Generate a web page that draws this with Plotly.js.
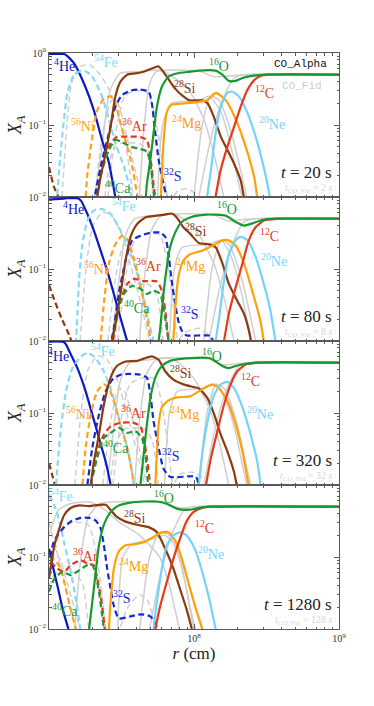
<!DOCTYPE html>
<html>
<head>
<meta charset="utf-8">
<script src="https://cdn.plot.ly/plotly-3.0.1.min.js"></script>
<style>
  html, body { margin: 0; padding: 0; background: #fff; }
  #chart { width: 374px; height: 706px; }
</style>
</head>
<body>
<div id="chart"></div>
<script>
// =============================================================================
//  Mass fractions X_A vs radius, CO_Alpha (colour) vs CO_Fid (grey), 4 epochs.
//  Curves are [r (1e7 cm), X_A] pairs.
// =============================================================================
const R_UNIT = 1e7;
const TIMES = ['20', '80', '320', '1280'];
const TIMES_FID = ['2', '8', '32', '128'];
const X_TICKS = [1e8, 1e9];
const X_TICKTEXT = ['10<sup>8</sup>', '10<sup>9</sup>'];

// ---- t = 20 s ---------------------------------------------------------------
const He_20 = [[1.0,0.97],[1.25,0.97],[1.30,0.95],[1.49,0.72],[1.74,0.38],[2.04,0.16],[2.32,0.062],[2.59,0.03],[2.87,0.01],[3.0,0.007]];
const Fe_20 = [[1.13,0.008],[1.145,0.012],[1.18,0.027],[1.24,0.077],[1.34,0.28],[1.49,0.5],[1.70,0.57],[1.94,0.5],[2.27,0.28],[2.59,0.12],[2.87,0.056],[3.28,0.027],[3.65,0.012],[3.78,0.008]];
const Ni_20 = [[1.79,0.01],[1.84,0.021],[1.99,0.069],[2.15,0.16],[2.39,0.23],[2.66,0.25],[2.87,0.2],[3.11,0.107],[3.46,0.05],[3.74,0.027],[4.05,0.011],[4.15,0.008]];
const Si_20 = [[2.15,0.01],[2.27,0.019],[2.46,0.041],[2.66,0.095],[2.87,0.25],[3.11,0.4],[3.46,0.5],[3.94,0.52],[4.50,0.55],[5.12,0.61],[5.70,0.65],[6.49,0.47],[7.41,0.32],[8.44,0.25],[9.27,0.22],[11.4,0.22],[12.4,0.2],[13.7,0.13],[15.3,0.069],[17.0,0.045],[18.9,0.029],[21.0,0.017],[22.1,0.01],[22.9,0.008]];
const S_20 = [[2.04,0.008],[2.10,0.012],[2.33,0.033],[2.59,0.077],[2.87,0.18],[3.19,0.26],[3.65,0.3],[4.27,0.31],[4.87,0.29],[5.12,0.2],[5.41,0.077],[5.70,0.033],[6.16,0.015],[6.49,0.01],[6.67,0.008]];
const Ar_20 = [[2.11,0.008],[2.21,0.015],[2.39,0.033],[2.66,0.056],[2.94,0.068],[3.46,0.069],[4.27,0.068],[4.73,0.062],[5.00,0.036],[5.26,0.015],[5.41,0.01],[5.52,0.008]];
const Ca_20 = [[2.07,0.008],[2.15,0.012],[2.33,0.024],[2.59,0.045],[2.87,0.062],[3.19,0.058],[3.65,0.05],[4.15,0.047],[4.73,0.043],[5.00,0.029],[5.26,0.012],[5.35,0.008]];
const O_20 = [[4.62,0.008],[4.73,0.015],[5.00,0.033],[5.26,0.077],[5.55,0.18],[6.00,0.34],[6.67,0.47],[7.60,0.52],[9.39,0.55],[10.8,0.57],[14.1,0.57],[15.7,0.5],[17.4,0.41],[19.4,0.41],[21.6,0.45],[25.2,0.48],[31.0,0.5],[100,0.5]];
const Mg_20 = [[5.88,0.008],[6.05,0.03],[6.24,0.08],[6.49,0.15],[6.97,0.19],[8.57,0.2],[10.8,0.21],[12.3,0.22],[13.4,0.26],[14.2,0.28],[16.6,0.22],[19.4,0.12],[22.7,0.05],[26.0,0.019],[27.3,0.01],[28.0,0.008]];
const Ne_20 = [[12.1,0.008],[13.1,0.024],[14.1,0.077],[15.3,0.18],[17.0,0.28],[18.4,0.29],[20.4,0.25],[23.4,0.146],[26.6,0.069],[29.4,0.033],[32.8,0.012],[33.8,0.008]];
const C_20 = [[13.8,0.008],[15.3,0.024],[17.0,0.05],[18.9,0.095],[21.0,0.18],[23.4,0.31],[26.0,0.42],[28.8,0.48],[32.8,0.5],[100,0.5]];
const Cr_20 = [[1.0,0.026],[1.08,0.014],[1.16,0.01],[1.2,0.007]];

const gFe_20 = [[1.23,0.01],[1.33,0.1],[1.44,0.4],[1.64,0.65],[1.92,0.68],[2.25,0.5],[2.66,0.28],[3.28,0.069],[3.72,0.015],[3.84,0.008]];
const gNi_20 = [[2.07,0.01],[2.35,0.08],[2.71,0.22],[2.98,0.2],[3.38,0.08],[3.90,0.025],[4.36,0.01],[4.5,0.008]];
const gS_20 = [[2.55,0.01],[2.89,0.08],[3.33,0.25],[3.90,0.3],[4.79,0.28],[5.43,0.12],[6.07,0.03],[6.56,0.01],[6.7,0.008]];
const gBump_20 = [[6.77,0.008],[7.68,0.012],[8.99,0.013],[10.3,0.011],[11.2,0.008]];
const gAr_20 = [[2.43,0.01],[2.71,0.04],[3.08,0.055],[4.22,0.055],[4.79,0.04],[5.18,0.012],[5.3,0.008]];
const gSi_20 = [[2.07,0.01],[2.32,0.05],[2.63,0.3],[3.08,0.52],[4.22,0.55],[5.79,0.58],[7.33,0.45],[9.27,0.3],[11.7,0.12],[13.7,0.04],[16.1,0.01],[16.8,0.008]];
const gO_20 = [[4.2,0.01],[4.5,0.08],[4.9,0.35],[5.5,0.55],[10.8,0.56],[13.7,0.47],[17.4,0.48],[23.9,0.5],[100,0.5]];
const gMg_20 = [[5.61,0.01],[6.07,0.1],[6.99,0.2],[10.8,0.22],[12.7,0.25],[15.4,0.15],[18.0,0.05],[20.4,0.015],[21.4,0.01],[22,0.008]];
const gNe_20 = [[10.0,0.01],[11.4,0.1],[13.1,0.25],[14.9,0.22],[18.0,0.08],[22.1,0.015],[23.1,0.01],[24,0.008]];
const gC_20 = [[10.8,0.01],[12.7,0.05],[15.4,0.2],[18.9,0.45],[22.1,0.5],[100,0.5]];

// ---- t = 80 s ---------------------------------------------------------------
const He_80 = [[1.0,0.92],[1.3,0.96],[1.57,0.96],[1.66,0.89],[1.84,0.58],[2.04,0.34],[2.27,0.18],[2.52,0.095],[2.80,0.045],[3.11,0.021],[3.46,0.01],[3.61,0.008]];
const Fe_80 = [[1.53,0.009],[1.57,0.024],[1.61,0.069],[1.70,0.22],[1.84,0.47],[2.04,0.65],[2.33,0.68],[2.66,0.58],[3.03,0.38],[3.46,0.22],[3.94,0.106],[4.50,0.04],[5.00,0.015],[5.26,0.01],[5.4,0.008]];
const Ni_80 = [[2.27,0.01],[2.39,0.033],[2.59,0.12],[2.87,0.22],[3.19,0.29],[3.46,0.26],[3.74,0.17],[4.15,0.077],[4.50,0.036],[4.87,0.015],[5.02,0.01],[5.1,0.008]];
const Si_80 = [[2.73,0.01],[2.87,0.017],[3.11,0.045],[3.37,0.13],[3.65,0.28],[4.05,0.42],[4.62,0.52],[5.55,0.55],[6.33,0.57],[7.01,0.59],[7.60,0.52],[8.44,0.38],[9.39,0.31],[10.8,0.23],[12.7,0.22],[14.1,0.2],[15.7,0.12],[17.4,0.062],[19.9,0.036],[22.1,0.024],[23.9,0.014],[24.7,0.01],[25.2,0.008]];
const S_80 = [[2.63,0.008],[2.80,0.015],[3.03,0.045],[3.37,0.13],[3.74,0.25],[4.27,0.29],[5.00,0.32],[5.85,0.32],[6.33,0.28],[6.67,0.16],[7.01,0.069],[7.41,0.033],[7.80,0.019],[8.23,0.014],[8.82,0.012],[13.0,0.0118],[13.5,0.01],[14.1,0.008]];
const Ar_80 = [[2.76,0.01],[2.87,0.017],[3.11,0.036],[3.46,0.062],[3.84,0.073],[4.50,0.068],[5.55,0.067],[6.00,0.05],[6.33,0.027],[6.67,0.01],[6.8,0.008]];
const Ca_80 = [[2.73,0.01],[2.94,0.024],[3.28,0.045],[3.74,0.058],[4.27,0.053],[4.73,0.045],[5.26,0.05],[5.85,0.045],[6.16,0.029],[6.49,0.015],[6.67,0.01],[6.75,0.008]];
const O_80 = [[5.70,0.01],[5.85,0.015],[6.16,0.045],[6.49,0.106],[6.84,0.2],[7.41,0.32],[8.23,0.45],[9.39,0.52],[12.1,0.57],[16.6,0.55],[19.4,0.45],[22.1,0.4],[25.2,0.43],[29.5,0.48],[36.4,0.5],[100,0.5]];
const Mg_80 = [[7.21,0.01],[7.41,0.027],[7.80,0.077],[8.44,0.13],[9.39,0.16],[11.4,0.18],[13.4,0.21],[15.7,0.25],[17.4,0.25],[19.4,0.21],[22.1,0.12],[25.2,0.05],[28.7,0.019],[30.3,0.01],[31,0.008]];
const Ne_80 = [[14.1,0.01],[14.9,0.021],[16.1,0.069],[17.4,0.16],[19.4,0.25],[21.0,0.28],[23.4,0.25],[26.6,0.146],[30.3,0.062],[33.6,0.027],[36.4,0.01],[37,0.008]];
const C_80 = [[16.1,0.01],[17.4,0.024],[19.4,0.056],[21.6,0.12],[23.9,0.25],[26.6,0.38],[30.3,0.47],[34.4,0.49],[41.4,0.5],[100,0.5]];
const Cr_80 = [[1.0,0.06],[1.10,0.035],[1.23,0.02],[1.38,0.012],[1.49,0.008]];

const gFe_80 = [[1.64,0.01],[1.80,0.1],[2.01,0.4],[2.35,0.62],[2.71,0.55],[3.18,0.3],[3.72,0.1],[4.36,0.03],[4.94,0.01],[5.1,0.008]];
const gNi_80 = [[2.55,0.01],[2.89,0.08],[3.28,0.22],[3.61,0.2],[4.09,0.08],[4.64,0.025],[5.10,0.01],[5.2,0.008]];
const gS_80 = [[2.98,0.01],[3.38,0.08],[3.90,0.25],[4.57,0.3],[5.79,0.3],[6.56,0.12],[7.21,0.03],[7.68,0.01],[7.8,0.008]];
const gBump_80 = [[7.44,0.008],[8.57,0.013],[10.8,0.015],[12.7,0.012],[13.7,0.008]];
const gAr_80 = [[2.84,0.01],[3.18,0.04],[3.61,0.06],[4.94,0.06],[5.61,0.04],[6.07,0.012],[6.2,0.008]];
const gSi_80 = [[2.71,0.01],[2.98,0.05],[3.38,0.3],[3.90,0.5],[5.35,0.55],[7.33,0.58],[8.99,0.45],[10.8,0.3],[13.7,0.12],[16.1,0.04],[18.9,0.01],[19.5,0.008]];
const gO_80 = [[4.22,0.01],[4.57,0.08],[5.10,0.35],[5.97,0.55],[13.7,0.56],[16.9,0.47],[20.4,0.48],[25.9,0.5],[100,0.5]];
const gMg_80 = [[6.77,0.01],[7.33,0.1],[8.31,0.2],[12.7,0.22],[15.4,0.25],[18.0,0.15],[21.1,0.05],[23.9,0.015],[25.1,0.01],[25.8,0.008]];
const gNe_80 = [[11.7,0.01],[13.3,0.1],[15.4,0.25],[17.4,0.22],[21.1,0.08],[25.5,0.015],[26.7,0.01],[27.3,0.008]];
const gC_80 = [[12.7,0.01],[14.9,0.05],[18.0,0.2],[22.1,0.45],[25.9,0.5],[100,0.5]];

// ---- t = 320 s --------------------------------------------------------------
const He_320 = [[1.0,0.98],[1.26,0.97],[1.31,0.9],[1.38,0.72],[1.57,0.42],[1.79,0.2],[1.99,0.095],[2.21,0.045],[2.46,0.021],[2.66,0.01],[2.71,0.008]];
const Fe_320 = [[1.12,0.01],[1.145,0.019],[1.21,0.062],[1.31,0.2],[1.45,0.42],[1.66,0.61],[1.84,0.68],[2.04,0.61],[2.33,0.42],[2.66,0.22],[3.03,0.085],[3.46,0.033],[3.74,0.015],[3.84,0.01],[3.9,0.008]];
const Ni_320 = [[1.70,0.01],[1.79,0.033],[1.94,0.095],[2.15,0.2],[2.39,0.25],[2.59,0.22],[2.80,0.146],[3.11,0.069],[3.46,0.033],[3.74,0.015],[3.84,0.01],[3.9,0.008]];
const Si_320 = [[1.94,0.01],[2.04,0.021],[2.21,0.05],[2.39,0.13],[2.66,0.31],[2.94,0.45],[3.37,0.52],[4.05,0.53],[4.50,0.57],[5.12,0.61],[5.70,0.55],[6.33,0.38],[7.21,0.29],[8.44,0.25],[9.9,0.23],[10.8,0.22],[12.4,0.16],[13.8,0.095],[15.3,0.05],[17.0,0.029],[18.9,0.015],[19.7,0.01],[20.2,0.008]];
const S_320 = [[1.84,0.01],[1.99,0.033],[2.21,0.095],[2.46,0.2],[2.73,0.29],[3.11,0.34],[3.65,0.35],[4.27,0.34],[4.73,0.31],[5.00,0.18],[5.26,0.077],[5.70,0.033],[6.16,0.017],[6.84,0.013],[10.3,0.013],[10.8,0.01],[11.2,0.008]];
const Ar_320 = [[1.94,0.01],[2.15,0.029],[2.39,0.05],[2.66,0.065],[3.11,0.073],[3.84,0.073],[4.27,0.065],[4.50,0.045],[4.73,0.024],[5.00,0.01],[5.1,0.008]];
const Ca_320 = [[1.94,0.01],[2.15,0.024],[2.39,0.045],[2.66,0.053],[3.03,0.062],[3.46,0.053],[3.94,0.056],[4.37,0.045],[4.62,0.027],[4.83,0.01],[4.9,0.008]];
const O_320 = [[4.27,0.01],[4.50,0.027],[4.73,0.069],[5.00,0.16],[5.41,0.31],[6.00,0.45],[6.84,0.53],[8.44,0.57],[12.7,0.58],[14.1,0.52],[15.7,0.45],[17.4,0.42],[19.4,0.45],[22.7,0.48],[28.0,0.5],[100,0.5]];
const Mg_320 = [[5.41,0.01],[5.55,0.027],[5.70,0.069],[6.00,0.12],[6.67,0.15],[7.60,0.165],[9.39,0.17],[10.8,0.2],[12.1,0.23],[13.4,0.25],[14.9,0.22],[17.0,0.146],[19.4,0.069],[21.6,0.029],[23.4,0.012],[23.8,0.01],[24.2,0.008]];
const Ne_320 = [[10.8,0.01],[11.4,0.027],[12.4,0.077],[13.8,0.18],[15.3,0.25],[17.0,0.27],[18.9,0.22],[21.6,0.12],[24.6,0.05],[27.3,0.021],[28.8,0.01],[29.3,0.008]];
const C_320 = [[12.1,0.01],[13.1,0.024],[14.5,0.056],[16.1,0.13],[17.9,0.25],[19.9,0.38],[22.7,0.47],[26.6,0.5],[100,0.5]];
const Cr_320 = [[1.0,0.02],[1.05,0.014],[1.10,0.01],[1.13,0.008]];

const gFe_320 = [[1.51,0.01],[1.66,0.1],[1.86,0.4],[2.17,0.62],[2.51,0.55],[2.93,0.3],[3.44,0.1],[4.03,0.03],[4.57,0.01],[4.7,0.008]];
const gNi_320 = [[2.35,0.01],[2.67,0.08],[3.03,0.22],[3.33,0.2],[3.78,0.08],[4.29,0.025],[4.72,0.01],[4.8,0.008]];
const gS_320 = [[2.76,0.01],[3.13,0.08],[3.61,0.25],[4.22,0.3],[5.35,0.3],[6.07,0.12],[6.67,0.03],[7.10,0.01],[7.2,0.008]];
const gBump_320 = [[6.99,0.008],[7.93,0.014],[10.0,0.015],[11.7,0.012],[12.7,0.008]];
const gAr_320 = [[2.63,0.01],[2.93,0.04],[3.33,0.06],[4.57,0.06],[5.18,0.04],[5.61,0.012],[5.7,0.008]];
const gSi_320 = [[2.51,0.01],[2.76,0.05],[3.13,0.3],[3.61,0.5],[4.94,0.55],[6.77,0.58],[8.31,0.45],[10.0,0.3],[12.7,0.12],[14.9,0.04],[17.4,0.01],[18,0.008]];
const gO_320 = [[3.90,0.01],[4.22,0.08],[4.72,0.35],[5.52,0.55],[12.7,0.56],[15.6,0.47],[18.9,0.48],[23.9,0.5],[100,0.5]];
const gMg_320 = [[6.26,0.01],[6.77,0.1],[7.68,0.2],[11.7,0.22],[14.2,0.25],[16.6,0.15],[19.5,0.05],[22.1,0.015],[23.1,0.01],[23.7,0.008]];
const gNe_320 = [[10.8,0.01],[12.3,0.1],[14.2,0.25],[16.1,0.22],[19.5,0.08],[23.5,0.015],[24.7,0.01],[25.2,0.008]];
const gC_320 = [[11.7,0.01],[13.7,0.05],[16.6,0.2],[20.4,0.45],[23.9,0.5],[100,0.5]];

// ---- t = 1280 s -------------------------------------------------------------
const He_1280 = [[1.0,0.13],[1.07,0.07],[1.16,0.035],[1.25,0.018],[1.36,0.01],[1.39,0.008]];
const Fe_1280 = [[1.0,0.72],[1.09,0.52],[1.18,0.31],[1.27,0.16],[1.38,0.077],[1.49,0.036],[1.57,0.019],[1.64,0.01],[1.67,0.008]];
const Ni_1280 = [[1.0,0.1],[1.10,0.09],[1.20,0.07],[1.29,0.04],[1.40,0.02],[1.53,0.01],[1.57,0.008]];
const Si_1280 = [[1.0,0.05],[1.04,0.085],[1.09,0.146],[1.18,0.25],[1.27,0.38],[1.41,0.48],[1.61,0.52],[1.89,0.51],[2.21,0.53],[2.46,0.53],[2.66,0.45],[2.94,0.36],[3.37,0.31],[4.05,0.28],[4.87,0.26],[5.55,0.22],[6.33,0.13],[7.21,0.069],[8.01,0.036],[8.87,0.019],[9.66,0.01],[9.9,0.008]];
const S_1280 = [[1.02,0.1],[1.075,0.16],[1.145,0.2],[1.27,0.26],[1.41,0.31],[1.66,0.35],[1.89,0.35],[2.10,0.32],[2.27,0.25],[2.39,0.146],[2.52,0.069],[2.66,0.036],[2.80,0.021],[3.03,0.014],[3.65,0.015],[4.27,0.016],[5.00,0.015],[5.41,0.012],[5.55,0.01],[5.70,0.008]];
const Ar_1280 = [[1.03,0.085],[1.145,0.069],[1.27,0.062],[1.41,0.077],[1.66,0.09],[1.84,0.081],[2.04,0.077],[2.15,0.05],[2.27,0.029],[2.37,0.015],[2.42,0.01],[2.45,0.008]];
const Ca_1280 = [[1.0,0.033],[1.09,0.05],[1.24,0.062],[1.41,0.056],[1.61,0.065],[1.84,0.077],[1.99,0.077],[2.10,0.056],[2.21,0.033],[2.33,0.015],[2.39,0.01],[2.42,0.008]];
const O_1280 = [[1.89,0.01],[1.99,0.024],[2.10,0.062],[2.21,0.146],[2.39,0.28],[2.66,0.42],[3.03,0.52],[3.65,0.57],[4.50,0.59],[5.55,0.59],[6.49,0.55],[7.60,0.47],[8.87,0.45],[9.9,0.46],[10.8,0.48],[12.7,0.5],[100,0.5]];
const Mg_1280 = [[2.59,0.01],[2.66,0.024],[2.80,0.069],[3.03,0.12],[3.37,0.146],[3.84,0.15],[4.50,0.16],[5.26,0.19],[6.00,0.22],[6.67,0.22],[7.41,0.17],[8.23,0.095],[9.27,0.04],[10.3,0.019],[11.4,0.01],[11.7,0.008]];
const Ne_1280 = [[5.26,0.01],[5.55,0.024],[6.00,0.069],[6.49,0.146],[7.21,0.2],[8.01,0.22],[8.87,0.2],[9.27,0.18],[10.3,0.12],[11.4,0.062],[12.7,0.027],[14.1,0.01],[14.5,0.008]];
const C_1280 = [[5.41,0.01],[5.85,0.021],[6.49,0.045],[7.21,0.095],[8.01,0.18],[8.87,0.31],[9.9,0.42],[11.4,0.48],[13.4,0.5],[100,0.5]];

const gFe_1280 = [[1.0,0.3],[1.10,0.15],[1.23,0.06],[1.40,0.02],[1.54,0.01],[1.6,0.008]];
const gNi_1280 = [[1.0,0.08],[1.16,0.1],[1.31,0.05],[1.49,0.02],[1.64,0.01],[1.7,0.008]];
const gS_1280 = [[1.0,0.05],[1.20,0.22],[1.44,0.3],[1.86,0.28],[2.11,0.12],[2.32,0.03],[2.47,0.01],[2.55,0.008]];
const gBump_1280 = [[2.98,0.008],[3.49,0.02],[4.22,0.03],[4.79,0.025],[5.35,0.012],[5.61,0.008]];
const gAr_1280 = [[1.0,0.04],[1.12,0.06],[1.51,0.06],[1.72,0.04],[1.86,0.012],[1.92,0.008]];
const gSi_1280 = [[1.0,0.2],[1.16,0.45],[1.40,0.55],[1.92,0.58],[2.43,0.45],[3.08,0.3],[4.22,0.2],[5.79,0.1],[6.77,0.04],[7.93,0.01],[8.2,0.008]];
const gO_1280 = [[1.51,0.01],[1.64,0.08],[1.86,0.35],[2.25,0.55],[5.79,0.57],[7.33,0.5],[8.57,0.48],[10.8,0.5],[100,0.5]];
const gMg_1280 = [[2.98,0.01],[3.23,0.1],[3.72,0.15],[5.35,0.18],[6.26,0.2],[7.33,0.15],[8.57,0.05],[9.72,0.015],[10.2,0.01],[10.5,0.008]];
const gNe_1280 = [[4.22,0.01],[4.94,0.1],[5.79,0.22],[6.77,0.2],[8.18,0.08],[9.57,0.015],[10.0,0.01],[10.3,0.008]];
const gC_1280 = [[4.94,0.01],[5.79,0.05],[6.99,0.2],[8.57,0.45],[10.0,0.5],[100,0.5]];

// species styles (colour, dashed?)
const SP = {
  Cr: { c: '#8c3a0e', dash: true },
  He: { c: '#0c18c4', dash: false },
  Fe: { c: '#84d9fb', dash: true },
  Ni: { c: '#ffa11a', dash: true },
  Ar: { c: '#e8371d', dash: true },
  Ca: { c: '#1c9a39', dash: true },
  S:  { c: '#1428d4', dash: true },
  Si: { c: '#8c3a0e', dash: false },
  Mg: { c: '#ffa00a', dash: false },
  Ne: { c: '#72d4fa', dash: false },
  C:  { c: '#e63b1b', dash: false },
  O:  { c: '#17992f', dash: false },
};
const GREY_DASHED = { Fe: true, Ni: true, S: true, Bump: true, Ar: true };

const PANELS = [
  { col: { Cr: Cr_20, He: He_20, Fe: Fe_20, Ni: Ni_20, Ar: Ar_20, Ca: Ca_20, S: S_20, Si: Si_20, Mg: Mg_20, Ne: Ne_20, C: C_20, O: O_20 },
    grey: { Fe: gFe_20, Ni: gNi_20, S: gS_20, Bump: gBump_20, Ar: gAr_20, Si: gSi_20, O: gO_20, Mg: gMg_20, Ne: gNe_20, C: gC_20 } },
  { col: { Cr: Cr_80, He: He_80, Fe: Fe_80, Ni: Ni_80, Ar: Ar_80, Ca: Ca_80, S: S_80, Si: Si_80, Mg: Mg_80, Ne: Ne_80, C: C_80, O: O_80 },
    grey: { Fe: gFe_80, Ni: gNi_80, S: gS_80, Bump: gBump_80, Ar: gAr_80, Si: gSi_80, O: gO_80, Mg: gMg_80, Ne: gNe_80, C: gC_80 } },
  { col: { Cr: Cr_320, He: He_320, Fe: Fe_320, Ni: Ni_320, Ar: Ar_320, Ca: Ca_320, S: S_320, Si: Si_320, Mg: Mg_320, Ne: Ne_320, C: C_320, O: O_320 },
    grey: { Fe: gFe_320, Ni: gNi_320, S: gS_320, Bump: gBump_320, Ar: gAr_320, Si: gSi_320, O: gO_320, Mg: gMg_320, Ne: gNe_320, C: gC_320 } },
  { col: { He: He_1280, Fe: Fe_1280, Ni: Ni_1280, Ar: Ar_1280, Ca: Ca_1280, S: S_1280, Si: Si_1280, Mg: Mg_1280, Ne: Ne_1280, C: C_1280, O: O_1280 },
    grey: { Fe: gFe_1280, Ni: gNi_1280, S: gS_1280, Bump: gBump_1280, Ar: gAr_1280, Si: gSi_1280, O: gO_1280, Mg: gMg_1280, Ne: gNe_1280, C: gC_1280 } },
];

// species labels: [species, text, page px x, page px y]
const LABELS = [
  [['He','<sup>4</sup>He',64,65],['Fe','<sup>54</sup>Fe',106,61],['O','<sup>16</sup>O',219,65],['Si','<sup>28</sup>Si',185,87],
   ['C','<sup>12</sup>C',264,92],['Ni','<sup>56</sup>Ni',83,125],['Ar','<sup>36</sup>Ar',134,125],['Mg','<sup>24</sup>Mg',186,122],
   ['Ne','<sup>20</sup>Ne',272,123],['S','<sup>32</sup>S',173,175],['Ca','<sup>40</sup>Ca',118,187]],
  [['He','<sup>4</sup>He',73,208],['Fe','<sup>54</sup>Fe',124,205],['O','<sup>16</sup>O',227,208],['Si','<sup>28</sup>Si',196,230],
   ['C','<sup>12</sup>C',269,235],['Ni','<sup>56</sup>Ni',96,268],['Ar','<sup>36</sup>Ar',148,265],['Mg','<sup>24</sup>Mg',190,265],
   ['Ne','<sup>20</sup>Ne',274,260],['Ca','<sup>40</sup>Ca',137,307],['S','<sup>32</sup>S',190,313]],
  [['He','<sup>4</sup>He',58,355],['Fe','<sup>54</sup>Fe',103,350],['O','<sup>16</sup>O',212,355],['Si','<sup>28</sup>Si',181,372],
   ['C','<sup>12</sup>C',251,380],['Ni','<sup>56</sup>Ni',78,413],['Ar','<sup>36</sup>Ar',133,412],['Mg','<sup>24</sup>Mg',184,413],
   ['Ne','<sup>20</sup>Ne',260,413],['Ca','<sup>40</sup>Ca',116,447],['S','<sup>32</sup>S',171,455]],
  [['Fe','<sup>54</sup>Fe',61,495],['O','<sup>16</sup>O',164,497],['Si','<sup>28</sup>Si',135,517],['C','<sup>12</sup>C',204,527],
   ['Ar','<sup>36</sup>Ar',85,555],['Ne','<sup>20</sup>Ne',211,553],['Mg','<sup>24</sup>Mg',133,565],['S','<sup>32</sup>S',122,597],
   ['Ca','<sup>40</sup>Ca',65,610]],
];

// =============================================================================
const W = 374, H = 706, M = { l: 49, r: 35, t: 53, b: 77 };
const SERIF = 'Liberation Serif, DejaVu Serif, serif';
const MONO = 'Liberation Mono, DejaVu Sans Mono, monospace';
const AXC = '#5a5a5a';

function ax(i) { return i === 0 ? '' : String(i + 1); }

function trace(pts, i, color, dash, width) {
  return {
    type: 'scatter', mode: 'lines', showlegend: false, hoverinfo: 'skip',
    x: pts.map((p) => p[0] * R_UNIT), y: pts.map((p) => p[1]),
    xaxis: 'x' + ax(i), yaxis: 'y' + ax(i),
    line: { color, width, dash: dash ? '6px,3.5px' : 'solid', shape: 'spline', smoothing: 0.6 },
  };
}

// page pixel -> paper coordinates (label placement only)
function paper(px, py) {
  const pw = W - M.l - M.r, ph = H - M.t - M.b;
  return { x: (px - M.l) / pw, y: (H - M.b - py) / ph };
}
function text(t, px, py, color, size, anchor, family) {
  const p = paper(px, py);
  return { xref: 'paper', yref: 'paper', x: p.x, y: p.y, text: t, showarrow: false,
    xanchor: anchor || 'center', yanchor: 'middle',
    font: { family: family || SERIF, size, color } };
}

function render() {
  const traces = [], annotations = [], layout = {
    width: W, height: H, margin: M, paper_bgcolor: '#fff', plot_bgcolor: '#fff',
    showlegend: false, font: { family: SERIF, color: '#222' },
  };

  PANELS.forEach((p, i) => {
    Object.keys(p.grey).forEach((k) => traces.push(trace(p.grey[k], i, '#cfcfcf', GREY_DASHED[k], 1.5)));
    Object.keys(p.col).forEach((k) => traces.push(trace(p.col[k], i, SP[k].c, SP[k].dash, 2.2)));

    const common = {
      type: 'log', showline: true, linecolor: AXC, linewidth: 1, mirror: 'ticks',
      ticks: 'inside', ticklen: 5, tickcolor: AXC, showgrid: false, zeroline: false,
      minor: { ticks: 'inside', ticklen: 2.5, tickcolor: AXC, dtick: 'D1', showgrid: false },
    };
    layout['xaxis' + ax(i)] = {
      ...common, range: [7, 9], anchor: 'y' + ax(i),
      matches: i === 0 ? undefined : 'x',
      tickmode: 'array', tickvals: X_TICKS, ticktext: X_TICKTEXT,
      showticklabels: i === 3,
      tickfont: { family: SERIF, size: 10, color: '#333' },
      title: i === 3 ? { text: '<i>r</i> (cm)', font: { family: SERIF, size: 17, color: '#222' }, standoff: 4 } : undefined,
    };
    layout['yaxis' + ax(i)] = {
      ...common, range: [-2, 0], anchor: 'x' + ax(i),
      domain: [1 - (i + 1) / 4, 1 - i / 4],
      tickmode: 'array',
      tickvals: i === 0 ? [1, 0.1, 0.01] : [0.1, 0.01],
      ticktext: i === 0 ? ['10<sup>0</sup>', '10<sup>−1</sup>', '10<sup>−2</sup>'] : ['10<sup>−1</sup>', '10<sup>−2</sup>'],
      tickfont: { family: SERIF, size: 10, color: '#333' },
      title: { text: '<i>X<sub>A</sub></i>', font: { family: SERIF, size: 18, color: '#222' }, standoff: 2 },
    };

    LABELS[i].forEach(([k, t, px, py]) => annotations.push(text(t, px, py, SP[k].c, 14)));

    const top = 53 + 144 * i;
    annotations.push(text(`<i>t</i> = ${TIMES[i]} s`, 334, top + 119, '#222', 17, 'right'));
    annotations.push(text(`<i>t</i><sub>CO_Fid</sub> = ${TIMES_FID[i]} s`, 334, top + 135, '#d6d6d6', 10, 'right'));
  });

  annotations.push(text('CO_Alpha', 329, 64, '#111', 11, 'right', MONO));
  annotations.push(text('CO_Fid', 324, 86, '#cccccc', 11, 'right', MONO));
  layout.annotations = annotations;

  Plotly.newPlot('chart', traces, layout, { displayModeBar: false, staticPlot: true });
}

window.addEventListener('DOMContentLoaded', render);
</script>
</body>
</html>
